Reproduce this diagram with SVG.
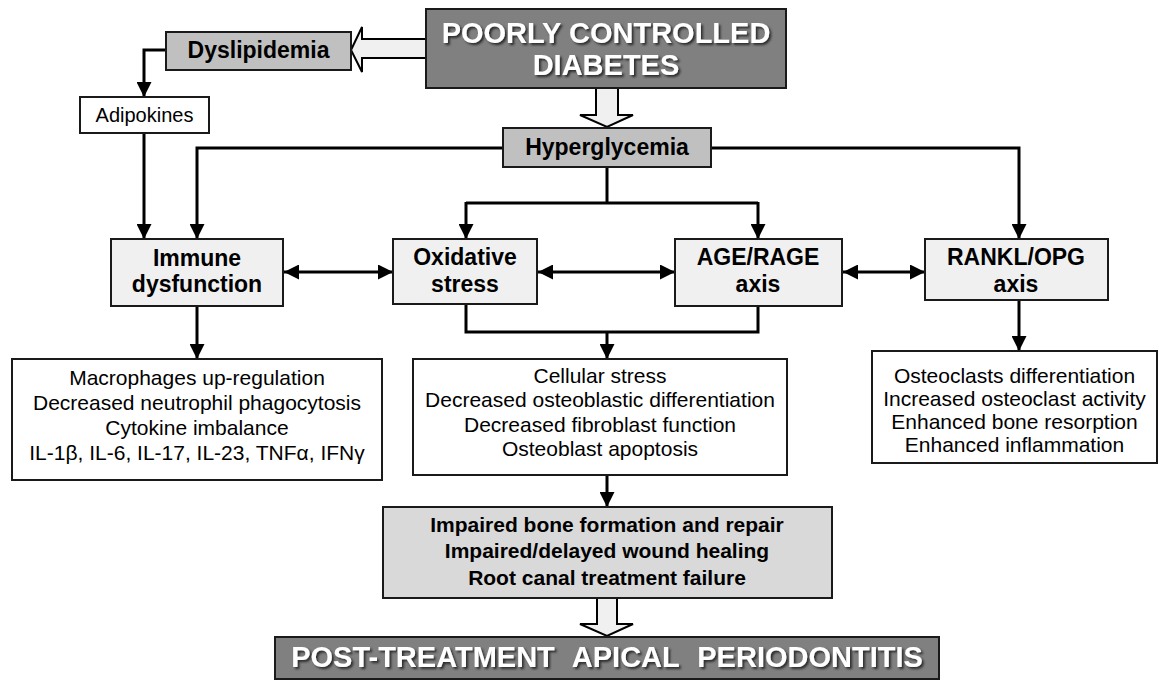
<svg xmlns="http://www.w3.org/2000/svg" width="1159" height="680" viewBox="0 0 1159 680">
<defs>
<style>
.box{stroke:#1a1a1a;stroke-width:2}
.dark{fill:#808080}
.mid{fill:#c0c0c0}
.light{fill:#f0f0f0}
.white{fill:#ffffff}
.imp{fill:#d9d9d9}
.t{font-family:"Liberation Sans",Arial,sans-serif;text-anchor:middle;fill:#000}
.b{font-weight:bold;font-size:23px}
.n{font-size:21px}
.big{font-weight:bold;font-size:29px;fill:#fff;filter:url(#sh)}
.ln{fill:none;stroke:#000;stroke-width:3}
.hollow{fill:#f0f0f0;stroke:#000;stroke-width:2;stroke-linejoin:miter}
</style>
<marker id="ah" viewBox="0 0 10 10" refX="10" refY="5" markerWidth="15" markerHeight="15" markerUnits="userSpaceOnUse" orient="auto-start-reverse">
<path d="M0,0 L10,5 L0,10 z" fill="#000"/>
</marker>
<filter id="sh" x="-10%" y="-30%" width="120%" height="160%">
<feDropShadow dx="2" dy="2" stdDeviation="1" flood-color="#202020" flood-opacity="0.9"/>
</filter>
</defs>
<rect width="1159" height="680" fill="#fff"/>

<g id="connectors">
<path class="hollow" d="M426,39 L362,39 L362,27 L351,50 L362,72 L362,58 L426,58"/>
<path class="hollow" d="M596,88 L596,115 L580,115 L607,127 L633,115 L618,115 L618,88"/>
<path class="hollow" d="M597,598 L597,624 L580,624 L607,636 L633,624 L617,624 L617,598"/>
<path class="ln" d="M166,50 L144,50 L144,97" marker-end="url(#ah)"/>
<path class="ln" d="M144,134 L144,239" marker-end="url(#ah)"/>
<path class="ln" d="M503,148 L197,148 L197,239" marker-end="url(#ah)"/>
<path class="ln" d="M711,148 L1019,148 L1019,239" marker-end="url(#ah)"/>
<path class="ln" d="M607,167 L607,203"/>
<path class="ln" d="M466,203 L758,203"/>
<path class="ln" d="M466,202 L466,239" marker-end="url(#ah)"/>
<path class="ln" d="M758,202 L758,239" marker-end="url(#ah)"/>
<path class="ln" d="M284,272 L393,272" marker-start="url(#ah)" marker-end="url(#ah)"/>
<path class="ln" d="M538,272 L675,272" marker-start="url(#ah)" marker-end="url(#ah)"/>
<path class="ln" d="M843,272 L925,272" marker-start="url(#ah)" marker-end="url(#ah)"/>
<path class="ln" d="M466,304 L466,332 L758,332 L758,306"/>
<path class="ln" d="M607,331 L607,359" marker-end="url(#ah)"/>
<path class="ln" d="M197,306 L197,359" marker-end="url(#ah)"/>
<path class="ln" d="M1019,300 L1019,351" marker-end="url(#ah)"/>
<path class="ln" d="M607,475 L607,507" marker-end="url(#ah)"/>
</g>

<g id="diabetes">
<rect class="box dark" x="426" y="9" width="360" height="79"/>
<text class="t big" x="606" y="43">POORLY CONTROLLED</text>
<text class="t big" x="606" y="75">DIABETES</text>
</g>

<g id="dyslipidemia">
<rect class="box mid" x="166" y="32" width="185" height="38"/>
<text class="t b" x="258.5" y="58">Dyslipidemia</text>
</g>

<g id="adipokines">
<rect class="box white" x="80" y="97" width="129" height="36"/>
<text class="t" x="144.5" y="122" font-size="20">Adipokines</text>
</g>

<g id="hyperglycemia">
<rect class="box mid" x="503" y="128" width="208" height="39"/>
<text class="t b" x="607" y="155">Hyperglycemia</text>
</g>

<g id="immune">
<rect class="box light" x="111" y="239" width="172" height="67"/>
<text class="t b" x="197" y="266">Immune</text>
<text class="t b" x="197" y="292">dysfunction</text>
</g>

<g id="oxidative">
<rect class="box light" x="393" y="239" width="144" height="65"/>
<text class="t b" x="465" y="265">Oxidative</text>
<text class="t b" x="465" y="292">stress</text>
</g>

<g id="agerage">
<rect class="box light" x="675" y="239" width="167" height="67"/>
<text class="t b" x="758" y="265">AGE/RAGE</text>
<text class="t b" x="758" y="292">axis</text>
</g>

<g id="rankl">
<rect class="box light" x="925" y="239" width="183" height="61"/>
<text class="t b" x="1016" y="265">RANKL/OPG</text>
<text class="t b" x="1016" y="292">axis</text>
</g>

<g id="immune-effects">
<rect class="box white" x="12" y="359" width="370" height="121"/>
<text class="t n" x="197" y="385">Macrophages up-regulation</text>
<text class="t n" x="197" y="410">Decreased neutrophil phagocytosis</text>
<text class="t n" x="197" y="435">Cytokine imbalance</text>
<text class="t n" x="197" y="460">IL-1β, IL-6, IL-17, IL-23, TNFα, IFNγ</text>
</g>

<g id="cellular-effects">
<rect class="box white" x="413" y="359" width="374" height="116"/>
<text class="t n" x="600" y="383">Cellular stress</text>
<text class="t n" x="600" y="407">Decreased osteoblastic differentiation</text>
<text class="t n" x="600" y="432">Decreased fibroblast function</text>
<text class="t n" x="600" y="456">Osteoblast apoptosis</text>
</g>

<g id="rankl-effects">
<rect class="box white" x="872" y="351" width="285" height="112"/>
<text class="t n" x="1014.5" y="383">Osteoclasts differentiation</text>
<text class="t n" x="1014.5" y="406">Increased osteoclast activity</text>
<text class="t n" x="1014.5" y="429">Enhanced bone resorption</text>
<text class="t n" x="1014.5" y="452">Enhanced inflammation</text>
</g>

<g id="impaired">
<rect class="box imp" x="383" y="507" width="449" height="91"/>
<text class="t" x="607" y="532" font-weight="bold" font-size="21">Impaired bone formation and repair</text>
<text class="t" x="607" y="558" font-weight="bold" font-size="21">Impaired/delayed wound healing</text>
<text class="t" x="607" y="585" font-weight="bold" font-size="21">Root canal treatment failure</text>
</g>

<g id="post-treatment">
<rect class="box dark" x="275" y="637" width="664" height="42"/>
<text class="t big" x="607" y="667" word-spacing="10">POST-TREATMENT APICAL PERIODONTITIS</text>
</g>
</svg>
